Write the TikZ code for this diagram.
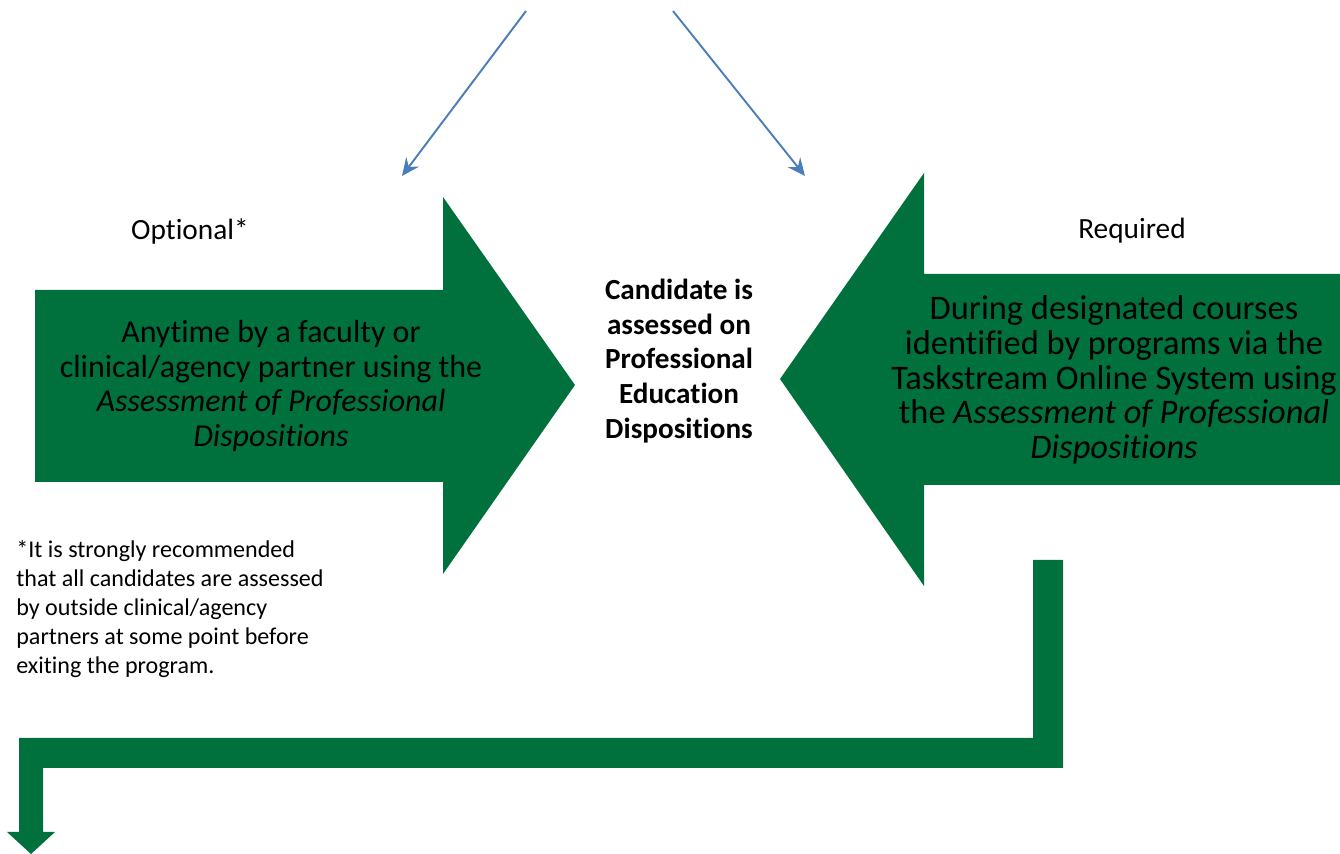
\documentclass[tikz,border=0pt]{standalone}
\usepackage{fontspec}
\setmainfont{Carlito}[Ligatures=NoCommon]
\usepackage{tikz}
\usetikzlibrary{arrows.meta}
\definecolor{dispgreen}{RGB}{0,113,61}
\definecolor{linkblue}{RGB}{74,126,187}

\begin{document}
\begin{tikzpicture}[x=0.02cm, y=-0.02cm,
    bigarrow/.style={fill=dispgreen, draw=none},
    pointer/.style={draw=linkblue, line width=1.1pt, -{Stealth[length=10pt,width=9pt,inset=3.5pt]}},
    lefttext/.style={align=center, inner sep=0pt, font=\fontsize{18.2}{19.6}\selectfont},
    righttext/.style={align=center, inner sep=0pt, font=\fontsize{19.6}{19.8}\selectfont},
    boldtext/.style={align=center, inner sep=0pt, font=\fontsize{16.6}{19.8}\selectfont\bfseries},
    labeltext/.style={inner sep=0pt, font=\fontsize{16.7}{20}\selectfont},
    smalltext/.style={inner sep=0pt, font=\fontsize{13.7}{16.4}\selectfont}]
  \fill[white] (0,0) rectangle (1340,854);
  \useasboundingbox (0,0) rectangle (1340,854);

  % blue pointers from the top
  \coordinate (top1) at (526,11);
  \coordinate (end1) at (402,176);
  \coordinate (top2) at (673,11);
  \coordinate (end2) at (805,176);
  \draw[pointer] (top1) -- (end1);
  \draw[pointer] (top2) -- (end2);

  % green arrows
  \fill[bigarrow] (35,290) -- (443,290) -- (443,197) -- (575,385)
    -- (443,574) -- (443,482) -- (35,482) -- cycle;
  \fill[bigarrow] (1340,274) -- (924,274) -- (924,173) -- (780,379)
    -- (924,586) -- (924,485) -- (1340,485) -- cycle;
  \fill[bigarrow] (1033,560) -- (1063,560) -- (1063,768) -- (43,768)
    -- (43,832) -- (55,832) -- (31,854) -- (7,832) -- (19,832)
    -- (19,738) -- (1033,738) -- cycle;

  % texts
  \node[labeltext] (optional) at (190,231) {Optional*};
  \node[labeltext] (required) at (1132,231) {Required};
  \node[lefttext] (anytime) at (271,386) {Anytime by a faculty or\\
    clinical/agency partner using the\\
    \textit{Assessment of Professional}\\
    \textit{Dispositions}};
  \node[boldtext] (candidate) at (679,361) {Candidate is\\assessed on\\
    Professional\\Education\\Dispositions};
  \node[righttext] (during) at (1114,380) {During designated courses\\
    identified by programs via the\\
    Taskstream Online System using\\
    the \textit{Assessment of Professional}\\
    \textit{Dispositions}};
  \node[smalltext, anchor=west, align=left] (note) at (16,609) {*It is strongly recommended\\
    that all candidates are assessed\\
    by outside clinical/agency\\
    partners at some point before\\
    exiting the program.};
\end{tikzpicture}
\end{document}
